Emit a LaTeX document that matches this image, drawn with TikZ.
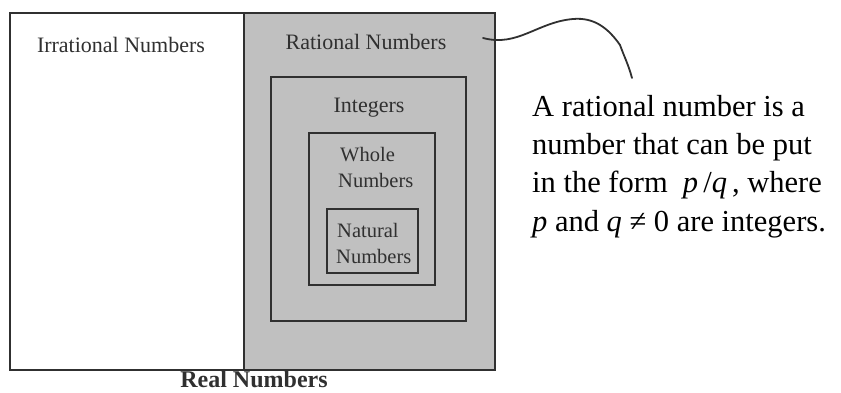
\documentclass[tikz,border=0pt]{standalone}
\usepackage{fontspec}
\setmainfont{Liberation Serif}
\definecolor{edge}{HTML}{303030}
\definecolor{ratfill}{HTML}{C0C0C0}
\begin{document}
\begin{tikzpicture}[x=1pt,y=-1pt,
  box/.style={draw=edge, line width=1.8pt, anchor=north west, inner sep=0pt, outer sep=0pt},
  lbl/.style={anchor=base, inner sep=0pt, font=\fontsize{22}{25}\selectfont, text=edge},
  lblw/.style={anchor=base west, inner sep=0pt, font=\fontsize{20.5}{24}\selectfont, text=edge},
  note/.style={anchor=base west, inner sep=0pt, font=\fontsize{30.5}{35}\selectfont, text=black},
  curve/.style={draw=edge, line width=1.8pt, line cap=round}]
\useasboundingbox (0,0) rectangle (841,393);
% boxes
\node[box, fill=white, minimum width=234pt, minimum height=357pt] (irr) at (10,13) {};
\node[box, fill=ratfill, minimum width=251pt, minimum height=357pt] (rat) at (244,13) {};
\node[box, fill=ratfill, minimum width=195pt, minimum height=244pt] (int) at (271,77) {};
\node[box, fill=ratfill, minimum width=126pt, minimum height=152pt] (who) at (309,133) {};
\node[box, fill=ratfill, minimum width=91pt, minimum height=64pt] (nat) at (327,209) {};
% labels
\node[lbl] (tirr) at (121,53) {Irrational Numbers};
\node[lbl] (trat) at (366,50) {Rational Numbers};
\node[lbl] (tint) at (369,113) {Integers};
\node[lblw] (twho1) at (340,162) {Whole};
\node[lblw] (twho2) at (338,187) {Numbers};
\node[lblw] (tnat1) at (337,237) {Natural};
\node[lblw] (tnat2) at (336,263) {Numbers};
\node[anchor=base, inner sep=0pt, font=\bfseries\fontsize{24}{27}\selectfont, text=edge] (treal) at (254,387) {Real Numbers};
% note text
\node[note] (n1) at (532,117) {A rational number is a};
\node[note] (n2) at (532,155) {number that can be put};
\node[note] (n3) at (532,193) {in the form \ \textit{p}\,/\textit{q}\,, where};
\node[note] (n4) at (532,231) {\textit{p} and \textit{q} ≠ 0 are integers.};
% connector
\coordinate (cstart) at (483,38);
\coordinate (cpeak) at (573,19);
\coordinate (cbend) at (620,45);
\coordinate (cend) at (632,78);
\draw[curve] (cstart) to[out=-15,in=185] (cpeak) to[out=5,in=125] (cbend) to[out=-70,in=105] (cend);
\end{tikzpicture}
\end{document}
